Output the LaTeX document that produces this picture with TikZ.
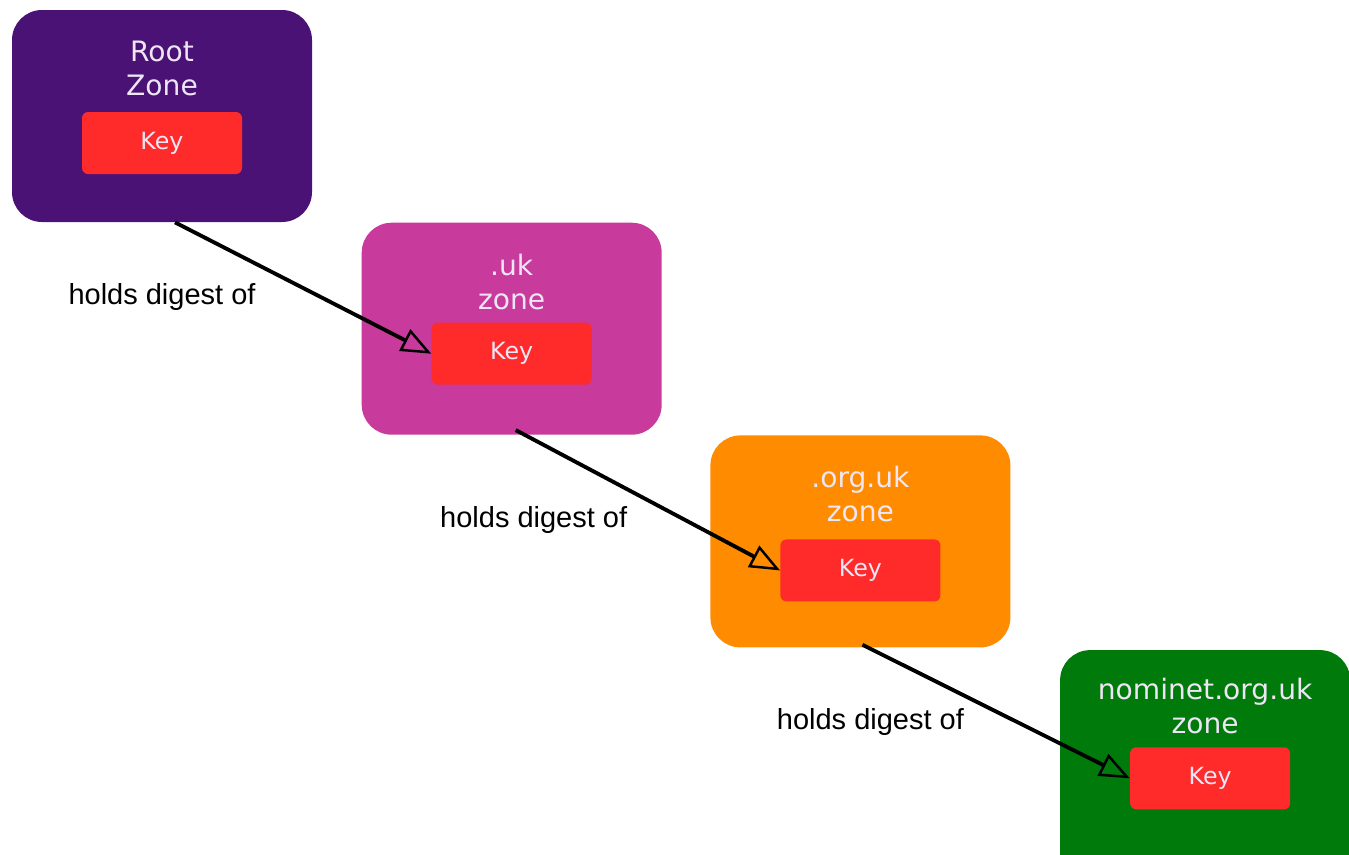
\documentclass[tikz,border=0pt]{standalone}
\usepackage{fontspec}
\setmainfont{Liberation Sans}
\newfontfamily\zonefont{DejaVu Sans}
\usepackage{xcolor}
\usepackage{tikz}
\usetikzlibrary{arrows.meta, positioning}
\definecolor{rootcolor}{RGB}{74,18,117}
\definecolor{ukcolor}{RGB}{200,58,156}
\definecolor{orgcolor}{RGB}{255,140,0}
\definecolor{nomcolor}{RGB}{0,122,10}
\definecolor{keycolor}{RGB}{255,42,42}
\definecolor{titlecolor}{RGB}{238,230,245}

\begin{document}
\begin{tikzpicture}[
    zone/.style={rounded corners=0.6cm, minimum width=6cm, minimum height=4.24cm, inner sep=0pt},
    title/.style={font=\zonefont\fontsize{16}{19.5}\selectfont, text=titlecolor, align=center},
    key/.style={fill=keycolor, rounded corners=0.12cm, minimum width=3.2cm, minimum height=1.24cm,
        font=\zonefont\fontsize{13.5}{16}\selectfont, text=titlecolor},
    note/.style={font=\fontsize{16.5}{19}\selectfont},
    digest/.style={-{Triangle[open, length=0.6cm, width=0.48cm, line width=1.4pt]}, line width=2.2pt},
]
    \useasboundingbox (0,0) rectangle (26.98,-17.08);
    \clip (0,0) rectangle (26.98,-17.08);

    % Zones
    \node[zone, fill=rootcolor] (root) at (3.24,-2.32) {};
    \node[zone, fill=ukcolor, below right=0cm and 0.98cm of root] (uk) {};
    \node[zone, fill=orgcolor, below right=0cm and 0.96cm of uk] (org) {};
    \node[zone, fill=nomcolor, minimum width=5.8cm, minimum height=4.8cm, below right=0.04cm and 0.98cm of org] (nom) {};

    % Titles
    \node[title] (roottitle) at ([yshift=-1.18cm]root.north) {Root\\Zone};
    \node[title] (uktitle) at ([yshift=-1.2cm]uk.north) {.uk\\zone};
    \node[title] (orgtitle) at ([yshift=-1.18cm]org.north) {.org.uk\\zone};
    \node[title] (nomtitle) at ([yshift=-1.12cm]nom.north) {nominet.org.uk\\zone};

    % Keys
    \node[key] (rootkey) at ([yshift=-0.54cm]root.center) {Key};
    \node[key] (ukkey) at ([yshift=-0.5cm]uk.center) {Key};
    \node[key] (orgkey) at ([yshift=-0.58cm]org.center) {Key};
    \node[key] (nomkey) at ([xshift=0.1cm, yshift=-2.57cm]nom.north) {Key};

    % Digest arrows
    \draw[digest] (root.south) ++(0.26,0) -- (ukkey.west);
    \draw[digest] (uk.south) ++(0.08,0.1) -- (orgkey.west);
    \draw[digest] (org.south) ++(0.04,0.06) -- (nomkey.west);

    % Labels
    \node[note, below=1.1cm of root] (note1) {holds digest of};
    \node[note, below=1.3cm of uk, xshift=0.44cm] (note2) {holds digest of};
    \node[note, below=1.1cm of org, xshift=0.2cm] (note3) {holds digest of};
\end{tikzpicture}
\end{document}
